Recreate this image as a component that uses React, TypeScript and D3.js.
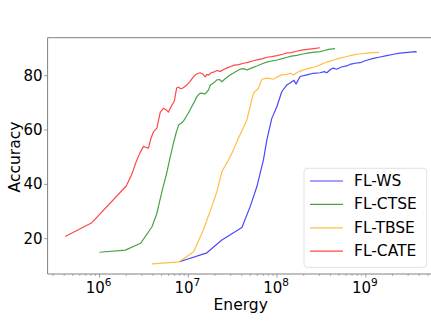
import React from "react";
import * as d3 from "d3";

const wsEnergy = [7.96e6, 1.62e7, 2.39e7, 4.02e7, 4.98e7, 5.93e7, 7.03e7, 7.68e7, 8.73e7, 9.95e7, 1.13e8, 1.29e8, 1.47e8, 1.55e8, 1.64e8, 1.82e8, 2.17e8, 2.57e8, 3.06e8, 3.4e8, 3.64e8, 4.0e8, 4.32e8, 4.71e8, 5.3e8, 6.1e8, 6.8e8, 7.58e8, 8.63e8, 1.0e9, 1.22e9, 1.45e9, 1.72e9, 2.05e9, 2.43e9, 3.0e9, 3.59e9, 3.75e9];
const wsAcc = [11.5, 14.8, 19.5, 24.1, 31.8, 39.2, 49.0, 56.4, 64.3, 68.6, 74.1, 76.6, 77.8, 78.3, 77.0, 79.7, 80.3, 80.9, 81.1, 81.5, 81.1, 82.3, 82.8, 82.4, 83.2, 83.6, 84.3, 84.6, 84.8, 85.6, 86.4, 86.9, 87.4, 87.9, 88.3, 88.6, 88.9, 88.8];

const ctseEnergy = [1.0e6, 1.95e6, 2.9e6, 3.9e6, 4.4e6, 4.8e6, 5.2e6, 5.7e6, 6.2e6, 6.8e6, 7.3e6, 7.8e6, 8.3e6, 8.83e6, 9.4e6, 1.0e7, 1.07e7, 1.15e7, 1.25e7, 1.36e7, 1.45e7, 1.55e7, 1.62e7, 1.69e7, 1.77e7, 1.9e7, 2.01e7, 2.1e7, 2.25e7, 2.39e7, 2.6e7, 2.96e7, 3.3e7, 3.84e7, 4.2e7, 4.57e7, 5.2e7, 5.93e7, 6.8e7, 7.8e7, 8.9e7, 9.95e7, 1.15e8, 1.3e8, 1.45e8, 1.67e8, 1.95e8, 2.3e8, 2.65e8, 3.05e8, 3.4e8, 3.8e8, 4.5e8];
const ctseAcc = [15.0, 15.8, 18.3, 24.4, 29.0, 34.3, 39.0, 44.0, 49.5, 55.1, 59.0, 61.9, 62.5, 63.3, 64.8, 66.2, 68.0, 69.9, 72.3, 73.6, 73.5, 73.3, 74.0, 74.8, 76.5, 77.2, 77.8, 78.5, 78.6, 77.8, 78.9, 80.3, 81.2, 82.4, 82.6, 82.1, 82.9, 83.6, 84.4, 85.1, 85.5, 85.8, 86.3, 86.8, 87.2, 87.5, 88.0, 88.4, 88.7, 88.9, 89.3, 89.7, 90.0];

const tbseEnergy = [3.9e6, 7.96e6, 1.15e7, 1.48e7, 1.84e7, 2.1e7, 2.39e7, 2.84e7, 3.23e7, 3.67e7, 4.57e7, 5.42e7, 6.18e7, 6.75e7, 7.68e7, 9.1e7, 1.0e8, 1.13e8, 1.3e8, 1.41e8, 1.53e8, 1.7e8, 1.9e8, 2.1e8, 2.36e8, 2.7e8, 3.06e8, 3.4e8, 3.79e8, 4.32e8, 5.0e8, 5.8e8, 7.24e8, 8.5e8, 1.03e9, 1.2e9, 1.42e9];
const tbseAcc = [10.7, 11.5, 15.2, 23.2, 31.8, 37.3, 44.7, 49.0, 52.7, 57.0, 63.7, 73.6, 75.4, 78.7, 79.1, 78.7, 79.5, 80.3, 80.5, 80.9, 80.3, 81.3, 81.9, 82.4, 82.8, 83.3, 84.0, 84.7, 85.2, 85.8, 86.4, 86.9, 87.7, 88.0, 88.3, 88.5, 88.6];

const cateEnergy = [4.1e5, 8.2e5, 2.0e6, 2.3e6, 2.6e6, 2.85e6, 3.13e6, 3.35e6, 3.56e6, 3.8e6, 4.06e6, 4.43e6, 4.83e6, 5.26e6, 5.6e6, 5.98e6, 6.54e6, 6.94e6, 7.4e6, 7.76e6, 8.2e6, 8.7e6, 9.64e6, 1.05e7, 1.12e7, 1.2e7, 1.28e7, 1.36e7, 1.45e7, 1.55e7, 1.62e7, 1.69e7, 1.8e7, 1.95e7, 2.1e7, 2.3e7, 2.5e7, 2.75e7, 3.0e7, 3.3e7, 3.7e7, 4.2e7, 4.7e7, 5.4e7, 6.1e7, 6.9e7, 7.7e7, 8.7e7, 1.0e8, 1.18e8, 1.3e8, 1.45e8, 1.65e8, 1.9e8, 2.2e8, 2.6e8, 3.05e8];
const cateAcc = [20.8, 25.9, 39.4, 43.5, 48.5, 51.5, 54.0, 53.6, 53.3, 57.0, 59.4, 60.7, 66.5, 68.0, 67.5, 66.6, 69.2, 70.5, 75.5, 75.8, 75.2, 75.5, 76.6, 77.9, 79.2, 80.3, 80.8, 81.1, 80.7, 79.6, 80.5, 80.2, 81.0, 81.4, 81.9, 81.6, 82.3, 82.9, 83.4, 83.9, 84.1, 84.6, 84.9, 85.5, 85.9, 86.3, 86.8, 87.0, 87.4, 88.0, 88.4, 88.5, 89.0, 89.4, 89.7, 90.0, 90.3];

const seriesNames = ["FL-WS", "FL-CTSE", "FL-TBSE", "FL-CATE"];
const seriesColors = ["#0000ff", "#008000", "#ffa500", "#ff0000"];
const yTicks = [20, 40, 60, 80];
const xTickExps = [6, 7, 8, 9];

const W = 431;
const H = 322;
const left = 47.6;
const right = 434.3;
const top = 37.7;
const bottom = 274;

export default function App() {
  const x = d3.scaleLog().domain([Math.pow(10, 5.415), Math.pow(10, 9.772)]).range([left, right]);
  const y = d3.scaleLinear().domain([7, 94]).range([bottom, top]);
  const data = [
    [wsEnergy, wsAcc],
    [ctseEnergy, ctseAcc],
    [tbseEnergy, tbseAcc],
    [cateEnergy, cateAcc],
  ];
  const line = d3
    .line<[number, number]>()
    .x((d) => x(d[0]))
    .y((d) => y(d[1]));

  const minor: number[] = [];
  for (let e = 5; e <= 9; e++) {
    for (let k = 2; k <= 9; k++) {
      const v = k * Math.pow(10, e);
      const px = x(v);
      if (px >= left && px <= W) minor.push(v);
    }
  }
  const font = "DejaVu Sans, sans-serif";
  const fs = 15.5;
  const tfs = 15;
  const axisColor = "#808080";
  const legX = 304;
  const legY = 168.3;
  const rowH = 23.4;

  return (
    <div style={{ position: "absolute", left: 0, top: 0 }}>
      <svg width={W} height={H} style={{ display: "block", background: "#fff" }}>
        <defs>
          <clipPath id="plotclip">
            <rect x={left} y={top} width={right - left} height={bottom - top} />
          </clipPath>
        </defs>
        <g clipPath="url(#plotclip)">
          {data.map(([ex, ac], i) => (
            <path
              key={i}
              d={line(ex.map((v, j) => [v, ac[j]] as [number, number])) || ""}
              fill="none"
              stroke={seriesColors[i]}
              strokeOpacity={0.72}
              strokeWidth={1.2}
              strokeLinejoin="round"
            />
          ))}
        </g>
        {/* spines */}
        <line x1={left} x2={left} y1={top} y2={bottom} stroke={axisColor} strokeWidth={1} />
        <line x1={left} x2={right} y1={top} y2={top} stroke={axisColor} strokeWidth={1} />
        <line x1={left} x2={right} y1={bottom} y2={bottom} stroke={axisColor} strokeWidth={1} />
        <line x1={right} x2={right} y1={top} y2={bottom} stroke={axisColor} strokeWidth={1} />
        {/* y ticks */}
        {yTicks.map((t) => (
          <g key={t}>
            <line x1={left - 3.5} x2={left} y1={y(t)} y2={y(t)} stroke={axisColor} strokeWidth={0.8} />
            <text x={left - 5} y={y(t)} textAnchor="end" dominantBaseline="central" fontFamily={font} fontSize={tfs} fill="#000">
              {t}
            </text>
          </g>
        ))}
        {/* x ticks */}
        {minor.map((v, i) => (
          <line key={i} x1={x(v)} x2={x(v)} y1={bottom} y2={bottom + 2} stroke={axisColor} strokeWidth={0.6} />
        ))}
        {xTickExps.map((e) => {
          const px = x(Math.pow(10, e));
          return (
            <g key={e}>
              <line x1={px} x2={px} y1={bottom} y2={bottom + 3.5} stroke={axisColor} strokeWidth={0.8} />
              <text x={px - 1} y={292.5} textAnchor="middle" fontFamily={font} fontSize={tfs} fill="#000">
                <tspan>10</tspan>
                <tspan dy={-6.5} fontSize={tfs * 0.7}>{e}</tspan>
              </text>
            </g>
          );
        })}
        <text x={240.7} y={310} textAnchor="middle" fontFamily={font} fontSize={fs} fill="#000">
          Energy
        </text>
        <text transform={`translate(${19.5},${157}) rotate(-90)`} textAnchor="middle" fontFamily={font} fontSize={fs} fill="#000">
          Accuracy
        </text>
        {/* legend */}
        <rect x={legX} y={legY} width={122.7} height={99} rx={3} fill="#fff" fillOpacity={0.8} stroke="#d9d9d9" strokeWidth={0.8} />
        {seriesNames.map((n, i) => {
          const cy = legY + 12.7 + i * rowH;
          return (
            <g key={n}>
              <line x1={310} x2={343} y1={cy} y2={cy} stroke={seriesColors[i]} strokeOpacity={0.72} strokeWidth={1.2} />
              <text x={354} y={cy} dominantBaseline="central" fontFamily={font} fontSize={fs} fill="#000">
                {n}
              </text>
            </g>
          );
        })}
      </svg>
    </div>
  );
}
